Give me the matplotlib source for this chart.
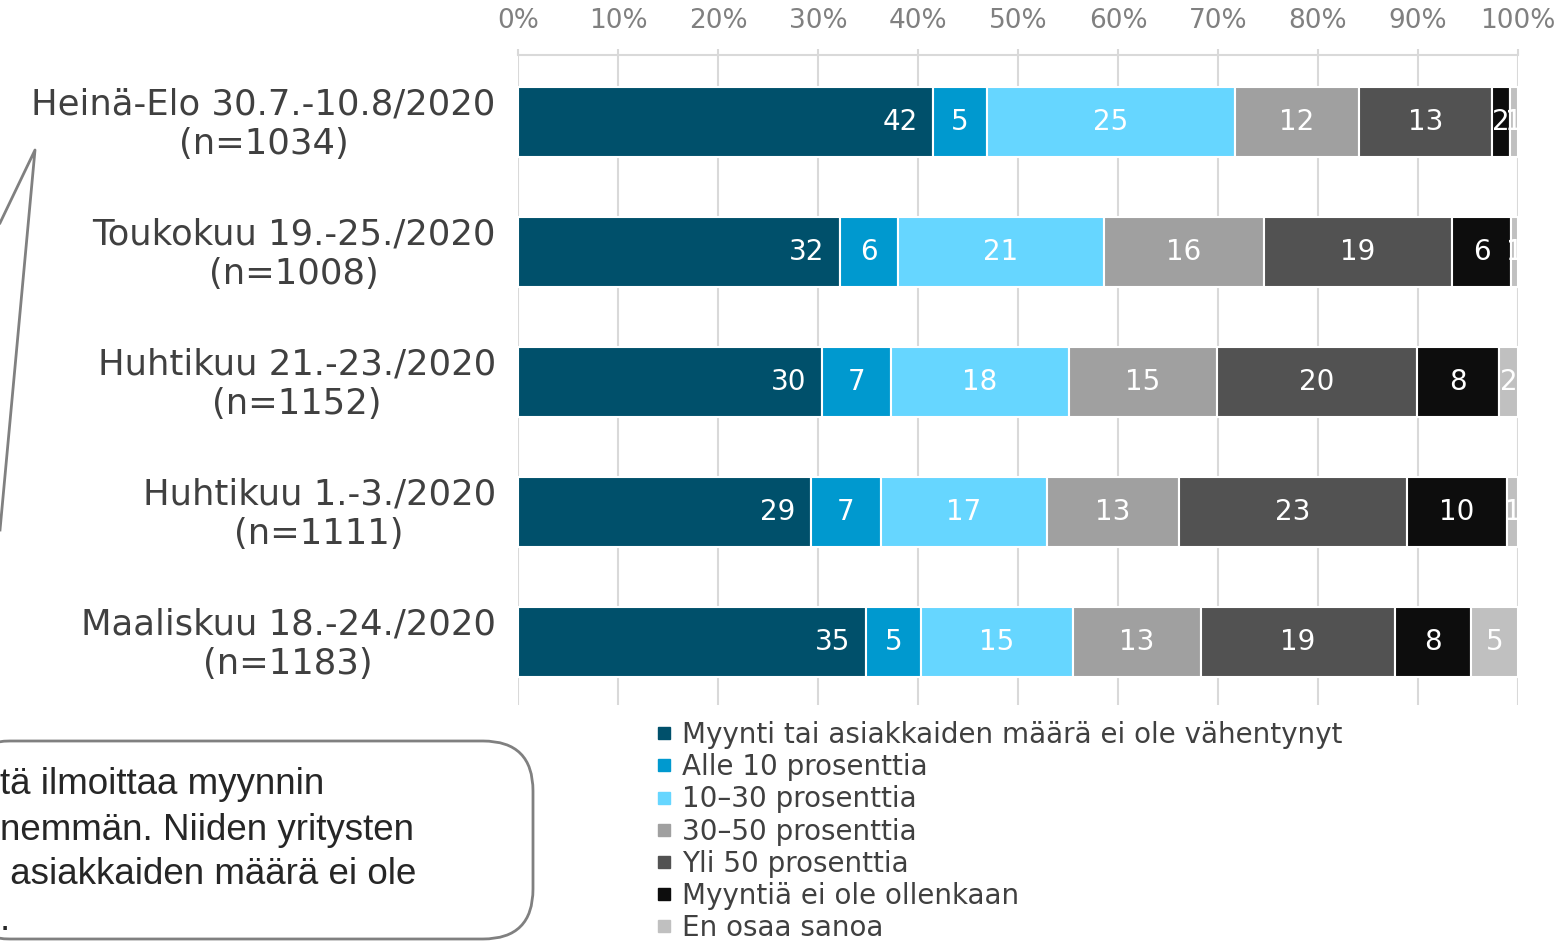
import numpy as np
import matplotlib
matplotlib.use('Agg')
import matplotlib.pyplot as plt
import matplotlib.transforms as mtransforms
from matplotlib.lines import Line2D
from matplotlib.patches import FancyBboxPatch

# data: share of firms (%) by drop in sales, 100 % stacked
periods = ['Heinä-Elo 30.7.-10.8/2020\n(n=1034)',
           'Toukokuu 19.-25./2020\n(n=1008)',
           'Huhtikuu 21.-23./2020\n(n=1152)',
           'Huhtikuu 1.-3./2020\n(n=1111)',
           'Maaliskuu 18.-24./2020\n(n=1183)']

categories = ['Myynti tai asiakkaiden määrä ei ole vähentynyt',
              'Alle 10 prosenttia',
              '10\u201330 prosenttia',
              '30\u201350 prosenttia',
              'Yli 50 prosenttia',
              'Myyntiä ei ole ollenkaan',
              'En osaa sanoa']

# segment widths
shares = np.array([
    [41.5, 5.4, 24.8, 12.4, 13.3, 1.8, 0.8],
    [32.2, 5.8, 20.6, 16.0, 18.8, 5.9, 0.7],
    [30.4, 6.9, 17.8, 14.8, 20.0, 8.2, 1.9],
    [29.3, 7.0, 16.6, 13.2, 22.8, 10.0, 1.1],
    [34.8, 5.5, 15.2, 12.8, 19.4, 7.6, 4.7],
])

# printed data labels
labels = [
    [42, 5, 25, 12, 13, 2, 1],
    [32, 6, 21, 16, 19, 6, 1],
    [30, 7, 18, 15, 20, 8, 2],
    [29, 7, 17, 13, 23, 10, 1],
    [35, 5, 15, 13, 19, 8, 5],
]

colors = ['#00506B', '#0099CF', '#66D6FF', '#A0A0A0', '#525252', '#0D0D0D', '#C0C0C0']

callout_lines = ['tä ilmoittaa myynnin',
                 'nemmän. Niiden yritysten',
                 ' asiakkaiden määrä ei ole',
                 '.']

W, H = 1563, 941


def fx(x):
    return x / W


def fy(y):
    return 1 - y / H


fig = plt.figure(figsize=(W / 100, H / 100), dpi=100)
ax = fig.add_axes([fx(518), fy(705), fx(1518) - fx(518), fy(55) - fy(705)])

ypos = np.arange(len(periods))
left = np.zeros(len(periods))
for j, cat in enumerate(categories):
    ax.barh(ypos, shares[:, j], left=left, height=0.54, color=colors[j],
            edgecolor='white', linewidth=1.5, label=cat, zorder=3)
    for i in range(len(periods)):
        if j == 0:
            # first series is labelled at the inside end
            ax.annotate(str(labels[i][j]), (left[i] + shares[i, j], ypos[i]),
                        xytext=(-11, 0), textcoords='offset points',
                        ha='right', va='center', color='white', fontsize=20,
                        annotation_clip=True, zorder=4)
        else:
            ax.text(left[i] + shares[i, j] / 2, ypos[i], str(labels[i][j]),
                    ha='center', va='center', color='white', fontsize=20,
                    clip_on=True, zorder=4)
    left += shares[:, j]

ax.set_xlim(0, 100)
ax.set_ylim(4.485, -0.515)
ax.xaxis.tick_top()
ax.set_xticks(np.arange(0, 101, 10))
ax.set_xticklabels(['%d%%' % v for v in range(0, 101, 10)])
ax.tick_params(axis='x', colors='#D9D9D9', labelcolor='#808080', labelsize=19,
               length=4, width=1.5, pad=11)
ax.set_yticks(ypos)
ax.set_yticklabels(periods)
ax.tick_params(axis='y', length=0, labelsize=25.5, labelcolor='#404040', pad=16)
shift = mtransforms.ScaledTranslation(0, 4 / 100, fig.dpi_scale_trans)
for lab in ax.get_yticklabels():
    lab.set_multialignment('center')
    lab.set_transform(lab.get_transform() + shift)

ax.grid(axis='x', color='#D9D9D9', linewidth=1.5)
ax.set_axisbelow(True)
for side in ['left', 'right', 'bottom']:
    ax.spines[side].set_visible(False)
ax.spines['top'].set_color('#D9D9D9')
ax.spines['top'].set_linewidth(1.5)

handles = [Line2D([], [], marker='s', linestyle='none', markersize=8,
                  markerfacecolor=c, markeredgecolor=c) for c in colors]
leg = fig.legend(handles, categories, loc='upper left',
                 bbox_to_anchor=(fx(656), fy(721)), frameon=False,
                 fontsize=20, labelspacing=0.15, handlelength=0.6,
                 handletextpad=0.35, borderpad=0, borderaxespad=0)
for t in leg.get_texts():
    t.set_color('#404040')

# callout box and its pointer, cut by the figure edge
box = FancyBboxPatch((fx(-40), fy(939)), fx(533) - fx(-40), fy(741) - fy(939),
                     boxstyle='round,pad=0,rounding_size=0.032',
                     transform=fig.transFigure, facecolor='white',
                     edgecolor='#808080', linewidth=2, mutation_aspect=W / H)
fig.add_artist(box)
fig.add_artist(Line2D([fx(0), fx(35), fx(0)], [fy(223), fy(150), fy(530)],
                      transform=fig.transFigure, color='#808080', linewidth=2))

for k, line in enumerate(callout_lines):
    fig.text(0, fy(785 + 45 * k), line, ha='left', va='center',
             fontsize=26.5, family='Liberation Sans', color='#262626')

fig.savefig('out.png', dpi=100)
